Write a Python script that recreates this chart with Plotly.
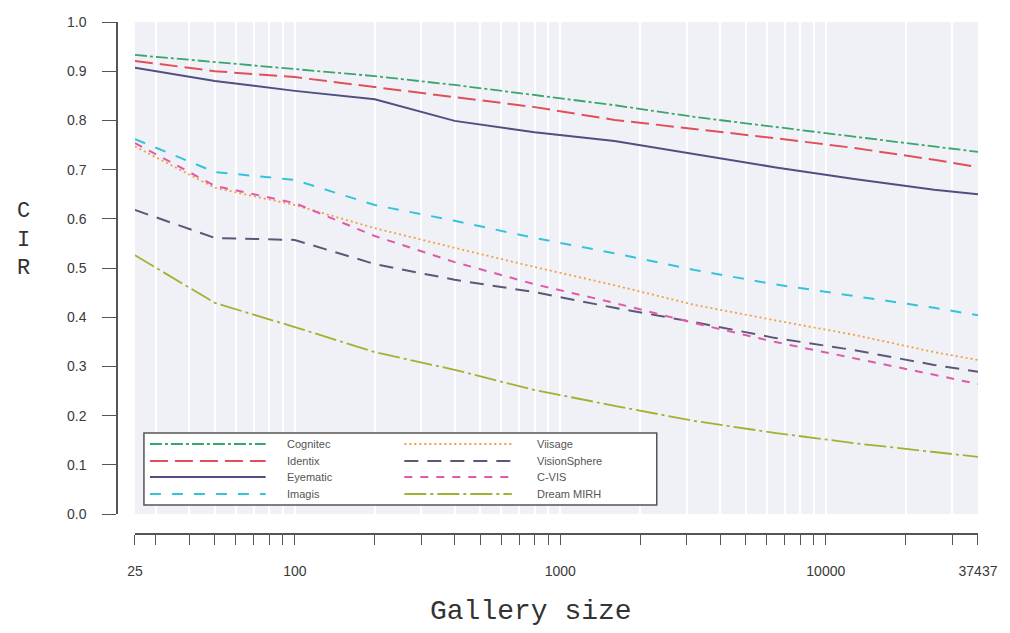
import math
import plotly.graph_objects as go

# ---------------- data ----------------
gallery_size = [25, 50, 100, 200, 400, 800, 1600, 3200, 6400, 12800, 25600, 37437]

cognitec     = [0.933, 0.919, 0.904, 0.890, 0.872, 0.852, 0.831, 0.807, 0.787, 0.768, 0.748, 0.736]
identix      = [0.921, 0.900, 0.888, 0.868, 0.848, 0.827, 0.801, 0.783, 0.764, 0.744, 0.720, 0.705]
eyematic     = [0.907, 0.880, 0.860, 0.843, 0.799, 0.776, 0.758, 0.732, 0.705, 0.681, 0.659, 0.650]
imagis       = [0.762, 0.695, 0.679, 0.628, 0.596, 0.561, 0.530, 0.496, 0.467, 0.443, 0.419, 0.404]
viisage      = [0.747, 0.663, 0.628, 0.581, 0.541, 0.502, 0.465, 0.425, 0.394, 0.364, 0.329, 0.313]
visionsphere = [0.618, 0.561, 0.557, 0.508, 0.476, 0.451, 0.419, 0.390, 0.358, 0.333, 0.303, 0.289]
cvis         = [0.754, 0.667, 0.632, 0.565, 0.512, 0.467, 0.429, 0.388, 0.350, 0.317, 0.283, 0.264]
dream_mirh   = [0.526, 0.429, 0.380, 0.329, 0.293, 0.252, 0.220, 0.189, 0.165, 0.144, 0.126, 0.116]

x_tick_vals = [25, 30, 40, 50, 60, 70, 80, 90, 100, 200, 300, 400, 500, 600, 700, 800, 900,
               1000, 2000, 3000, 4000, 5000, 6000, 7000, 8000, 9000, 10000, 20000, 30000, 37437]
x_tick_labels = {25: "25", 100: "100", 1000: "1000", 10000: "10000", 37437: "37437"}
y_tick_vals = [0.0, 0.1, 0.2, 0.3, 0.4, 0.5, 0.6, 0.7, 0.8, 0.9, 1.0]

# (name, values, colour, dash, width, legend column, legend row)
series = [
    ("Cognitec",     cognitec,     "#3aa56e", "12px,3px,3px,3px", 1.8, 0, 0),
    ("Identix",      identix,      "#e0505a", "18px,7px",         2.0, 0, 1),
    ("Eyematic",     eyematic,     "#4f4f80", "solid",            2.0, 0, 2),
    ("Imagis",       imagis,       "#35c3dc", "11px,11px",        2.0, 0, 3),
    ("Viisage",      viisage,      "#f0a040", "2px,3px",          1.8, 1, 0),
    ("VisionSphere", visionsphere, "#5e5678", "14px,9px",         2.0, 1, 1),
    ("C-VIS",        cvis,         "#e05aa8", "8px,8px",          2.0, 1, 2),
    ("Dream MIRH",   dream_mirh,   "#a4b030", "22px,4px,3px,4px", 1.8, 1, 3),
]

# ---------------- geometry ----------------
W, H = 1010, 633
ML, MR, MT, MB = 117, 30, 22, 99
PW, PH = W - ML - MR, H - MT - MB


def px(xp):
    return (xp - ML) / PW


def py(yp):
    return (H - MB - yp) / PH


fig = go.Figure()
for name, vals, col, dash, wd, _, _ in series:
    fig.add_trace(go.Scatter(x=gallery_size, y=vals, mode="lines", name=name,
                             line=dict(color=col, dash=dash, width=wd),
                             showlegend=False))

tick_font = dict(family="Liberation Sans, Arial, sans-serif", size=14, color="#3a3a3a")

fig.update_layout(
    width=W, height=H,
    margin=dict(l=ML, r=MR, t=MT, b=MB),
    paper_bgcolor="white",
    plot_bgcolor="#f0f1f7",
    showlegend=False,
    xaxis=dict(
        type="log",
        range=[math.log10(25), math.log10(37437)],
        domain=[px(135), 1],
        anchor="free", position=0,
        showline=True, linecolor="#555555", linewidth=1.5,
        ticks="outside", ticklen=10, tickwidth=1.2, tickcolor="#555555",
        tickvals=x_tick_vals,
        ticktext=[x_tick_labels.get(v, "") for v in x_tick_vals],
        tickfont=tick_font,
        ticklabelstandoff=14,
        showgrid=True, gridcolor="white", gridwidth=1.5,
        zeroline=False,
    ),
    yaxis=dict(
        range=[0, 1.0],
        domain=[py(514), 1],
        anchor="free", position=0,
        showline=True, linecolor="#555555", linewidth=1.5,
        ticks="outside", ticklen=14, tickwidth=1.2, tickcolor="#555555",
        tickvals=y_tick_vals,
        ticktext=[f"{v:.1f}" for v in y_tick_vals],
        tickfont=tick_font,
        ticklabelstandoff=13,
        showgrid=False, zeroline=False,
    ),
)

# axis titles
fig.add_annotation(text="Gallery size", xref="paper", yref="paper",
                   x=px(532), y=py(611), xanchor="center", yanchor="middle",
                   showarrow=False,
                   font=dict(family="Liberation Mono, Courier New, monospace", size=28, color="#333333"))
fig.add_annotation(text="C<br>I<br>R", xref="paper", yref="paper",
                   x=px(23), y=py(240), xanchor="center", yanchor="middle",
                   showarrow=False, align="center",
                   font=dict(family="Liberation Mono, Courier New, monospace", size=22, color="#333333"))

# legend box (drawn manually to mimic the original long line samples)
fig.add_shape(type="rect", xref="paper", yref="paper",
              x0=px(144), x1=px(658), y0=py(505), y1=py(433),
              fillcolor="white", line=dict(color="#555555", width=1.5), layer="above")
row_y = [444, 461, 477, 494]
col_sample = [(150, 266), (405, 513)]
col_text = [285, 536]
for name, vals, col, dash, wd, c, r in series:
    x0, x1 = col_sample[c]
    fig.add_shape(type="line", xref="paper", yref="paper",
                  x0=px(x0), x1=px(x1), y0=py(row_y[r]), y1=py(row_y[r]),
                  line=dict(color=col, dash=dash, width=wd), layer="above")
    fig.add_annotation(text=name, xref="paper", yref="paper",
                       x=px(col_text[c]), y=py(row_y[r]), xanchor="left", yanchor="middle",
                       showarrow=False,
                       font=dict(family="Liberation Sans, Arial, sans-serif", size=11, color="#555555"))

fig.write_html("out.html")
